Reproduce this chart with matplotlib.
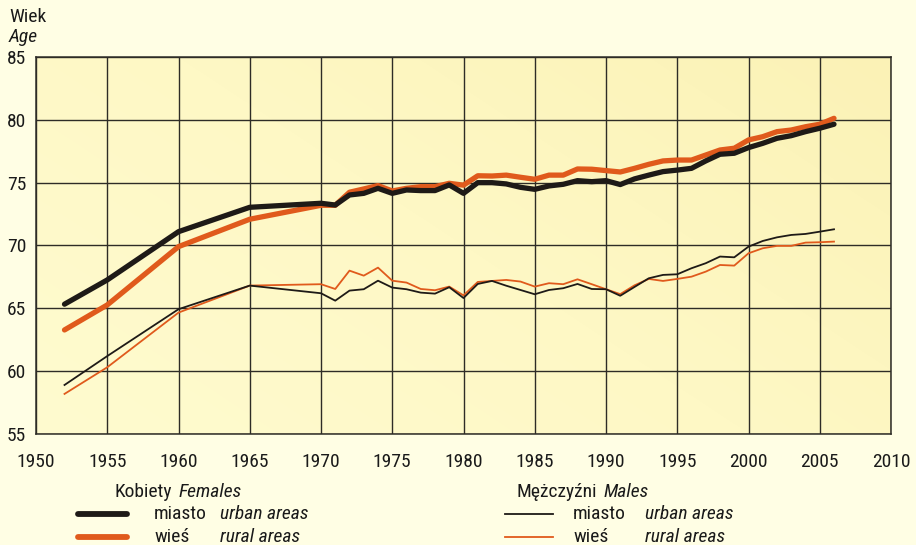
import matplotlib
matplotlib.use('Agg')
import numpy as np
import matplotlib.pyplot as plt
from matplotlib.lines import Line2D
from matplotlib.colors import LinearSegmentedColormap
from matplotlib import font_manager as fm

# ---------------- font choice (condensed sans if available) ----------------
entries = fm.fontManager.ttflist
fam_names = {f.name for f in entries}


def is_condensed(st):
    if isinstance(st, str):
        return 'condensed' in st or 'narrow' in st
    try:
        return int(st) < 500
    except Exception:
        return False


FAMILY, STRETCH = 'DejaVu Sans', 'normal'
for p in ['Liberation Sans Narrow', 'Roboto Condensed', 'Open Sans Condensed',
          'Noto Sans Condensed', 'DejaVu Sans Condensed', 'Arial Narrow']:
    if p in fam_names:
        FAMILY, STRETCH = p, 'normal'
        break
else:
    for fam in ['Roboto', 'Noto Sans', 'Open Sans', 'DejaVu Sans']:
        if any(f.name == fam and is_condensed(f.stretch) for f in entries):
            FAMILY, STRETCH = fam, 'condensed'
            break
    else:
        FAMILY, STRETCH = 'Liberation Sans', 'normal'

plt.rcParams['font.family'] = [FAMILY, 'DejaVu Sans']
plt.rcParams['font.stretch'] = STRETCH

# ---------------- data ----------------
years = [1952, 1955, 1960, 1965, 1970,
         1971, 1972, 1973, 1974, 1975, 1976, 1977, 1978, 1979, 1980,
         1981, 1982, 1983, 1984, 1985, 1986, 1987, 1988, 1989, 1990,
         1991, 1992, 1993, 1994, 1995, 1996, 1997, 1998, 1999, 2000,
         2001, 2002, 2003, 2004, 2005, 2006]

females_urban = [65.33, 67.26, 71.10, 73.04, 73.36,
                 73.22, 74.02, 74.15, 74.55, 74.15, 74.42, 74.37, 74.37, 74.82, 74.15,
                 75.00, 75.00, 74.90, 74.63, 74.47, 74.74, 74.87, 75.16, 75.08, 75.16,
                 74.85, 75.30, 75.60, 75.88, 76.00, 76.14, 76.73, 77.26, 77.34, 77.79,
                 78.13, 78.53, 78.74, 79.06, 79.33, 79.65]

females_rural = [63.28, 65.27, 69.91, 72.09, 73.20,
                 73.20, 74.24, 74.50, 74.77, 74.34, 74.55, 74.68, 74.68, 74.95, 74.80,
                 75.55, 75.53, 75.60, 75.43, 75.27, 75.60, 75.60, 76.09, 76.07, 75.96,
                 75.85, 76.14, 76.46, 76.73, 76.80, 76.80, 77.20, 77.60, 77.74, 78.40,
                 78.66, 79.06, 79.19, 79.45, 79.65, 80.12]

males_urban = [58.90, 61.20, 64.93, 66.81, 66.20,
               65.61, 66.41, 66.52, 67.20, 66.65, 66.52, 66.25, 66.17, 66.68, 65.82,
               66.94, 67.18, 66.80, 66.46, 66.12, 66.46, 66.60, 66.94, 66.54, 66.52,
               66.00, 66.70, 67.39, 67.66, 67.71, 68.19, 68.59, 69.12, 69.06, 69.91,
               70.36, 70.65, 70.84, 70.92, 71.10, 71.29]

males_rural = [58.19, 60.31, 64.66, 66.81, 66.92,
               66.54, 68.00, 67.60, 68.24, 67.20, 67.05, 66.54, 66.44, 66.73, 66.03,
               67.10, 67.18, 67.26, 67.13, 66.73, 67.00, 66.92, 67.31, 66.92, 66.52,
               66.13, 66.83, 67.34, 67.18, 67.34, 67.52, 67.92, 68.45, 68.40, 69.38,
               69.78, 69.97, 69.97, 70.23, 70.26, 70.31]

x_ticks = [1950, 1955, 1960, 1965, 1970, 1975, 1980, 1985, 1990, 1995, 2000, 2005, 2010]
y_ticks = [55, 60, 65, 70, 75, 80, 85]

# ---------------- style ----------------
BG = '#FFFEE4'
BLACK = '#1E1A17'
ORANGE = '#E05A1C'
GRID = '#2E2C26'
TXT = '#1a1a1a'
FS = 14

fig = plt.figure(figsize=(9.16, 5.45), dpi=100, facecolor=BG)
ax = fig.add_axes([36/916, 1-434/545, (891-36)/916, (434-57)/545])

# very subtle diagonal gradient background of the plot area
gx, gy = np.meshgrid(np.linspace(0, 1, 200), np.linspace(0, 1, 120))
grad = (gx * 0.6 + gy * 0.4)
cmap_bg = LinearSegmentedColormap.from_list('bg', ['#FFFBCF', '#FEF8C5', '#FBF2B6'])
ax.imshow(grad, extent=[1950, 2010, 55, 85], origin='lower', aspect='auto',
          cmap=cmap_bg, zorder=0, interpolation='bilinear')

ax.set_xlim(1950, 2010)
ax.set_ylim(55, 85)
ax.set_xticks(x_ticks)
ax.set_yticks(y_ticks)
ax.set_xticklabels([str(v) for v in x_ticks])
ax.set_yticklabels([str(v) for v in y_ticks])
ax.tick_params(axis='both', length=0, labelsize=FS, colors=TXT)
ax.tick_params(axis='x', pad=14)
ax.tick_params(axis='y', pad=7)
ax.grid(True, color=GRID, linewidth=1.0, zorder=1)
ax.set_axisbelow(True)
for s in ax.spines.values():
    s.set_color(GRID)
    s.set_linewidth(1.1)

thick = 3.8
thin = 1.3
ax.plot(years, females_rural, color=ORANGE, lw=thick, solid_capstyle='round',
        solid_joinstyle='round', zorder=3)
ax.plot(years, females_urban, color=BLACK, lw=thick, solid_capstyle='round',
        solid_joinstyle='round', zorder=4)
ax.plot(years, males_rural, color=ORANGE, lw=thin, solid_joinstyle='round', zorder=3)
ax.plot(years, males_urban, color=BLACK, lw=thin, solid_joinstyle='round', zorder=4)

# axis title
fig.text(9/916, 1-17/545, 'Wiek', fontsize=FS, va='center', ha='left', color=TXT)
fig.text(9/916, 1-37/545, 'Age', fontsize=FS, va='center', ha='left', style='italic', color=TXT)

# ---------------- legend ----------------
def fx(px):
    return px / 916


def fy(py):
    return 1 - py / 545


renderer = fig.canvas.get_renderer()


def pair(px, py, a, b):
    t = fig.text(fx(px), fy(py), a, fontsize=FS, va='center', ha='left', color=TXT)
    bb = t.get_window_extent(renderer=renderer)
    fig.text((bb.x1 + 6) / (9.16 * 100), fy(py), b, fontsize=FS, va='center', ha='left',
             style='italic', color=TXT)


pair(115, 492, 'Kobiety', 'Females')
pair(517, 492, 'Mężczyźni', 'Males')

rows = [(514, 'miasto', 'urban areas', BLACK), (537, 'wieś', 'rural areas', ORANGE)]
for py, pl, en, col in rows:
    fig.add_artist(Line2D([fx(78), fx(127)], [fy(py), fy(py)], color=col, lw=4.2,
                          solid_capstyle='round'))
    fig.text(fx(154), fy(py), pl, fontsize=FS, va='center', ha='left', color=TXT)
    fig.text(fx(220), fy(py), en, fontsize=FS, va='center', ha='left', style='italic', color=TXT)
    fig.add_artist(Line2D([fx(505), fx(553)], [fy(py), fy(py)], color=col, lw=1.3))
    fig.text(fx(573), fy(py), pl, fontsize=FS, va='center', ha='left', color=TXT)
    fig.text(fx(645), fy(py), en, fontsize=FS, va='center', ha='left', style='italic', color=TXT)

fig.savefig('out.png', dpi=100, facecolor=BG)
